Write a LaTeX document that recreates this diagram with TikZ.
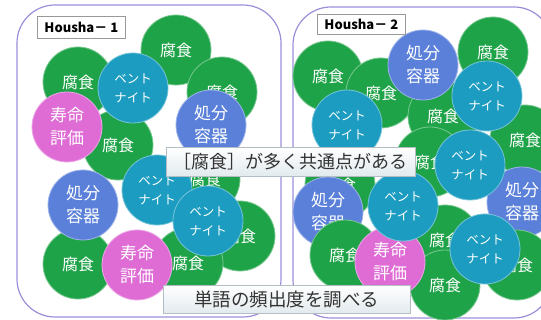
\documentclass[tikz,border=0pt]{standalone}
\usepackage{fontspec}
\setmainfont{Noto Sans CJK JP}
\definecolor{gfill}{HTML}{1FA348}
\definecolor{tfill}{HTML}{1B9CC0}
\definecolor{bfill}{HTML}{5B80DA}
\definecolor{pfill}{HTML}{DF6CD5}
\definecolor{frame}{HTML}{9A90DA}
\definecolor{boxline}{HTML}{B4BCC4}
\definecolor{boxbot}{HTML}{E2EAEE}
\definecolor{txt}{HTML}{333333}
\tikzset{
  circ/.style={circle, minimum size=70pt, inner sep=0pt, line width=0.8pt, text=white, align=center},
  gc/.style={circ, fill=gfill, draw=gfill!60!white, font=\fontsize{16}{18}\selectfont},
  tc/.style={circ, fill=tfill, draw=tfill!60!white, font=\fontsize{12.5}{19}\selectfont},
  bc/.style={circ, fill=bfill, draw=bfill!60!white, font=\fontsize{17}{23}\selectfont},
  pc/.style={circ, fill=pfill, draw=pfill!60!white, font=\fontsize{17}{23}\selectfont},
  panel/.style={draw=frame, line width=1.2pt, rounded corners=38pt},
  lab/.style={draw=gray!80, fill=white, line width=0.7pt, anchor=north west, inner sep=0pt, minimum width=88pt, font=\fontsize{13}{15}\selectfont\bfseries},
  tbox/.style={draw=boxline, line width=0.7pt, top color=white, bottom color=boxbot, anchor=north west, inner sep=0pt, text=txt},
}
\begin{document}
\begin{tikzpicture}[x=1pt,y=-1pt]
\useasboundingbox (0,0) rectangle (541,320);
\clip (0,0) rectangle (541,320);
\fill[white] (0,0) rectangle (541,320);
% panels
\draw[panel] (17,5) rectangle (281,317);
\draw[panel] (293,7) rectangle (552,318);
% left panel circles
\node[gc] (lg1) at (176,50) {腐食};
\node[gc] (lg2) at (78,82) {腐食};
\node[gc] (lg3) at (222,92) {腐食};
\node[gc] (lg4) at (118,145) {腐食};
\node[gc] (lg5) at (205,179) {腐食};
\node[gc] (lg6) at (240,236) {腐食};
\node[gc] (lg7) at (78,264) {腐食};
\node[gc] (lg8) at (188,263) {腐食};
\node[tc] (lt1) at (133,88) {ベント\\ナイト};
\node[pc] (lp1) at (67,127) {寿命\\評価};
\node[bc] (lb1) at (211,125) {処分\\容器};
\node[tc] (lt2) at (157,190) {ベント\\ナイト};
\node[bc] (lb2) at (83,205) {処分\\容器};
\node[tc] (lt3) at (208,221) {ベント\\ナイト};
\node[pc] (lp2) at (137,265) {寿命\\評価};
% right panel circles
\node[gc] (rg1) at (328,76) {腐食};
\node[gc] (rg2) at (381,93) {腐食};
\node[gc] (rg3) at (493,52) {腐食};
\node[gc] (rg4) at (443,116) {腐食};
\node[gc] (rg5) at (525,140) {腐食};
\node[bc] (rb1) at (423,65) {処分\\容器};
\node[tc] (rt1) at (487,96) {ベント\\ナイト};
\node[tc] (rt2) at (347,125) {ベント\\ナイト};
\node[gc] (rg6) at (430,162) {腐食};
\node[gc] (rg7) at (340,185) {腐食};
\node[bc] (rb2) at (522,202) {処分\\容器};
\node[tc] (rt3) at (470,165) {ベント\\ナイト};
\node[bc] (rb3) at (328,212) {処分\\容器};
\node[gc] (rg8) at (445,240) {腐食};
\node[gc] (rg9) at (517,265) {腐食};
\node[gc] (rg10) at (345,255) {腐食};
\node[gc] (rg11) at (445,285) {腐食};
\node[pc] (rp1) at (390,262) {寿命\\評価};
\node[tc] (rt4) at (403,206) {ベント\\ナイト};
\node[tc] (rt5) at (485,249) {ベント\\ナイト};
% labels
\node[lab, minimum height=22pt] (lab1) at (37,16) {Housha－ 1};
\node[lab, minimum height=20pt] (lab2) at (317,14) {Housha－ 2};
% text boxes
\node[tbox, minimum width=249pt, minimum height=29pt, font=\fontsize{18}{20}\selectfont] (box1) at (166,147) {［腐食］が多く共通点がある};
\node[tbox, minimum width=247pt, minimum height=28pt, font=\fontsize{18.5}{20}\selectfont] (box2) at (163,285) {単語の頻出度を調べる};
\end{tikzpicture}
\end{document}
